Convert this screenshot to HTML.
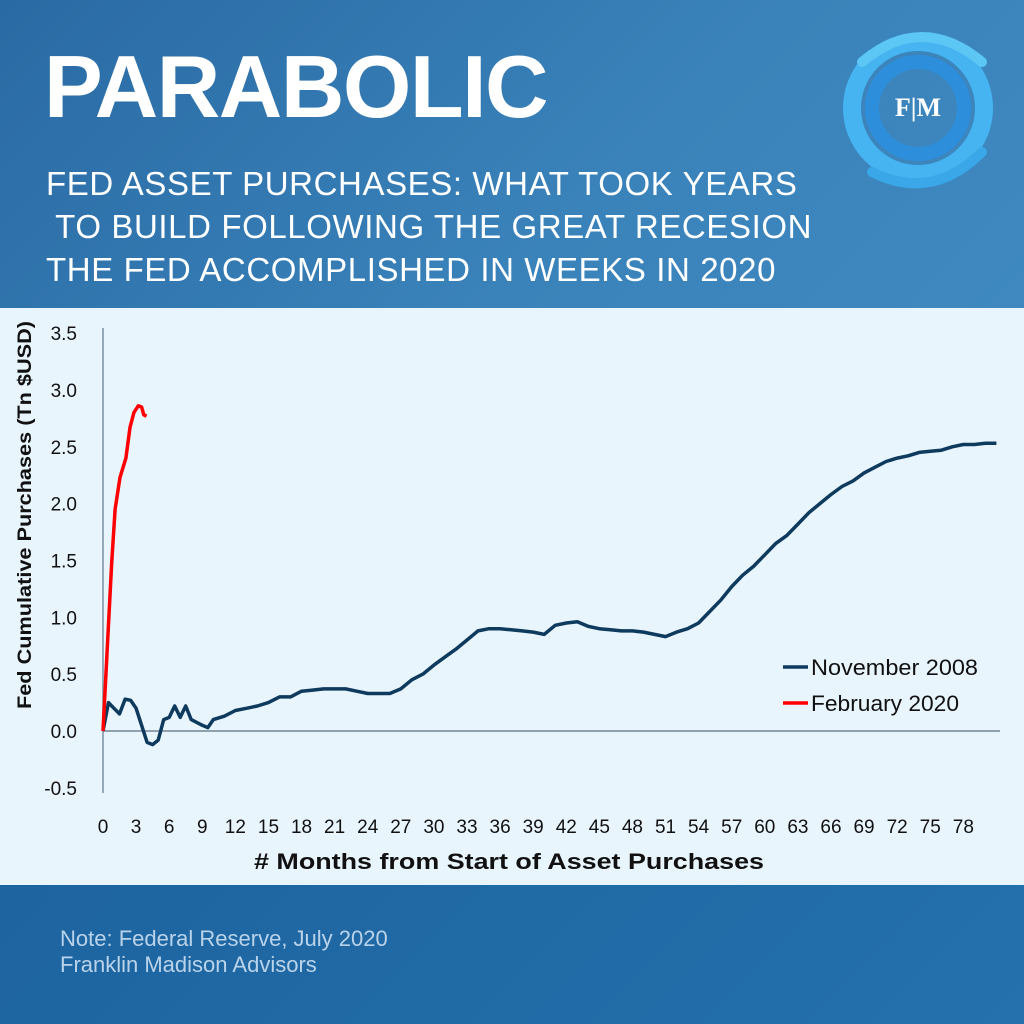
<!DOCTYPE html>
<html><head><meta charset="utf-8"><style>
html,body{margin:0;padding:0}
body{width:1024px;height:1024px;overflow:hidden;position:relative;font-family:"Liberation Sans","DejaVu Sans",sans-serif;background:#1f68a3}
#header{position:absolute;left:0;top:0;width:1024px;height:308px;background:linear-gradient(135deg,#2a6aa4 0%,#3a83ba 60%,#3f88c0 100%)}
#title{position:absolute;left:44px;top:36px;color:#fff;font-size:88px;font-weight:bold;letter-spacing:-1.5px;font-family:"Liberation Sans",sans-serif}
#subtitle{position:absolute;left:46px;top:162px;color:#fff;font-size:33px;line-height:43px;letter-spacing:0.6px;white-space:pre}
#chart-panel{position:absolute;left:0;top:308px;width:1024px;height:577px;background:#e9f5fd}
#footer{position:absolute;left:0;top:885px;width:1024px;height:139px;background:linear-gradient(135deg,#1d64a0,#2471ad)}
#note{position:absolute;left:60px;top:926px;color:#b9d3ea;font-size:22px;line-height:26px}
</style></head><body>
<div id="header">
<div id="title">PARABOLIC</div>
<div id="subtitle">FED ASSET PURCHASES: WHAT TOOK YEARS
 TO BUILD FOLLOWING THE GREAT RECESION
THE FED ACCOMPLISHED IN WEEKS IN 2020</div>
<svg style="position:absolute;left:832px;top:22px" width="176" height="176" viewBox="0 0 176 176">
<g fill="none" stroke-linecap="round">
<circle cx="86" cy="86" r="66" stroke="#45b4f0" stroke-width="18"/>
<circle cx="86" cy="86" r="46" stroke="#2d8fdc" stroke-width="14"/>
<path d="M30 40 Q90 -10 150 40" stroke="#5cc6f5" stroke-width="10"/>
<path d="M150 130 Q100 180 40 150" stroke="#3aa8e8" stroke-width="10"/>
</g>
<text x="86" y="94" text-anchor="middle" font-family="Liberation Serif,serif" font-weight="bold" font-size="26" fill="#fff">F|M</text>
</svg>
</div>
<div id="chart-panel"></div>
<svg id="chart" style="position:absolute;left:0;top:308px" width="1024" height="577"></svg>
<div id="footer">
</div>
<div id="note">Note: Federal Reserve, July 2020<br>Franklin Madison Advisors</div>
<script>
const yTicks=["-0.5","0.0","0.5","1.0","1.5","2.0","2.5","3.0","3.5"];
const xTicks=[0,3,6,9,12,15,18,21,24,27,30,33,36,39,42,45,48,51,54,57,60,63,66,69,72,75,78];
const novX=[0,0.5,1,1.5,2,2.5,3,3.5,4,4.5,5,5.5,6,6.5,7,7.5,8,9,9.5,10,11,12,13,14,15,16,17,18,19,20,21,22,23,24,25,26,27,28,29,30,31,32,33,34,35,36,37,38,39,40,41,42,43,44,45,46,47,48,49,50,51,52,53,54,55,56,57,58,59,60,61,62,63,64,65,66,67,68,69,70,71,72,73,74,75,76,77,78,79,80,81];
const novY=[0,0.25,0.2,0.15,0.28,0.27,0.2,0.05,-0.1,-0.12,-0.08,0.1,0.12,0.22,0.12,0.22,0.1,0.05,0.03,0.1,0.13,0.18,0.2,0.22,0.25,0.3,0.3,0.35,0.36,0.37,0.37,0.37,0.35,0.33,0.33,0.33,0.37,0.45,0.5,0.58,0.65,0.72,0.8,0.88,0.9,0.9,0.89,0.88,0.87,0.85,0.93,0.95,0.96,0.92,0.9,0.89,0.88,0.88,0.87,0.85,0.83,0.87,0.9,0.95,1.05,1.15,1.27,1.37,1.45,1.55,1.65,1.72,1.82,1.92,2.0,2.08,2.15,2.2,2.27,2.32,2.37,2.4,2.42,2.45,2.46,2.47,2.5,2.52,2.52,2.53,2.53];
const febX=[0,0.4,0.79,1.1,1.54,2.08,2.45,2.8,3.2,3.5,3.7,3.95];
const febY=[0,0.75,1.48,1.95,2.23,2.4,2.67,2.8,2.86,2.85,2.78,2.77];
const svg=document.getElementById('chart');
const NS='http://www.w3.org/2000/svg';
const xs=v=>103+v*11.03;
const ys=v=>423-v*113.7;
function mk(t,a){const e=document.createElementNS(NS,t);for(const k in a)e.setAttribute(k,a[k]);svg.appendChild(e);return e;}
let e;
e=mk('line',{x1:103,y1:20,x2:103,y2:485,stroke:'#7a8fa3','stroke-width':1.5});


e=mk('line',{x1:103,y1:ys(0),x2:1000,y2:ys(0),stroke:'#5a6f82','stroke-width':1.2});


yTicks.forEach(t=>{const el=mk('text',{x:77,y:ys(parseFloat(t))+7,'text-anchor':'end','font-size':19,fill:'#111'});el.textContent=t;

});
xTicks.forEach(t=>{const el=mk('text',{x:xs(t),y:525,'text-anchor':'middle','font-size':19,fill:'#111'});el.textContent=t;

});
e=mk('text',{x:509,y:561,'text-anchor':'middle','font-size':22,'font-weight':'bold',fill:'#111',textLength:510,lengthAdjust:'spacingAndGlyphs'});e.textContent='# Months from Start of Asset Purchases';


e=mk('text',{x:0,y:0,'text-anchor':'middle','font-size':19,'font-weight':'bold',fill:'#111',textLength:388,lengthAdjust:'spacingAndGlyphs',transform:'translate(31,207) rotate(-90)'});e.textContent='Fed Cumulative Purchases (Tn $USD)';


function path(X,Y){return X.map((x,i)=>(i?'L':'M')+xs(x).toFixed(1)+' '+ys(Y[i]).toFixed(1)).join(' ');}
e=mk('path',{d:path(novX,novY),fill:'none',stroke:'#0e3a5e','stroke-width':3.5,'stroke-linejoin':'round'});


e=mk('path',{d:path(febX,febY),fill:'none',stroke:'#ff0000','stroke-width':3.5,'stroke-linejoin':'round'});


e=mk('line',{x1:783,y1:359,x2:808,y2:359,stroke:'#0e3a5e','stroke-width':3.5});


e=mk('text',{x:811,y:367,'font-size':22,fill:'#111',textLength:167,lengthAdjust:'spacingAndGlyphs'});e.textContent='November 2008';


e=mk('line',{x1:783,y1:395,x2:808,y2:395,stroke:'#ff0000','stroke-width':3.5});


e=mk('text',{x:811,y:403,'font-size':22,fill:'#111',textLength:148,lengthAdjust:'spacingAndGlyphs'});e.textContent='February 2020';


</script>
</body></html>
